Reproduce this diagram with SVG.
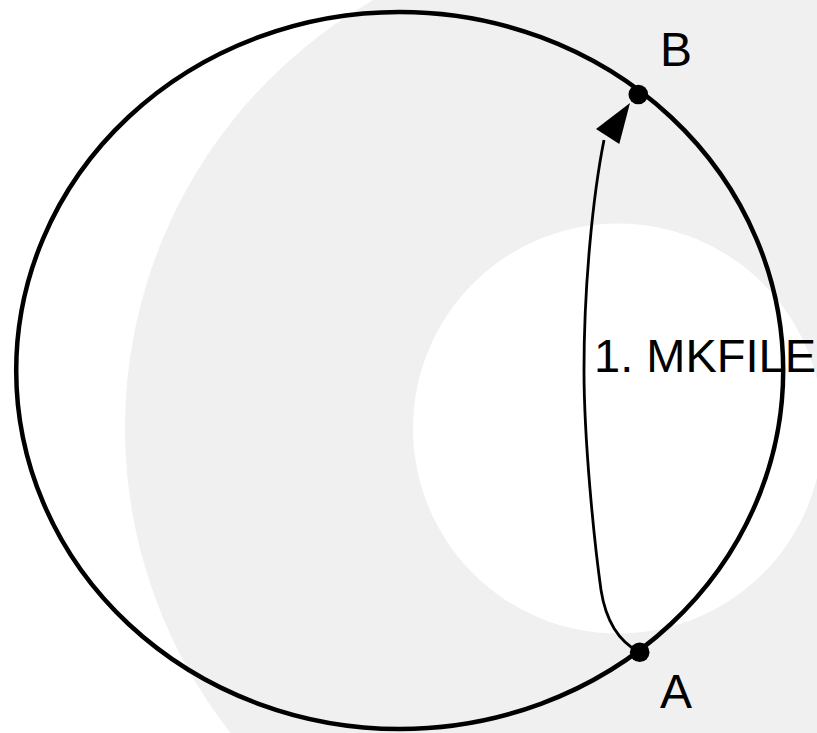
<svg xmlns="http://www.w3.org/2000/svg" width="817" height="733" viewBox="0 0 817 733">
<style>
.bgring{fill:#f0f0f0}
.bghole{fill:#ffffff}
.ring{fill:none;stroke:#000;stroke-width:4.5}
.edge{fill:none;stroke:#000;stroke-width:2.8}
.dot{fill:#000}
.lbl{font-family:"Liberation Sans",Arial,sans-serif;font-size:48px;fill:#000}
.lbl2{font-family:"Liberation Sans",Arial,sans-serif;font-size:47px;fill:#000}
</style>
<rect width="817" height="733" fill="#ffffff"/>
<circle class="bgring" cx="618" cy="428" r="493"/>
<circle class="bghole" cx="618" cy="428.5" r="205"/>
<g id="cycle">
<ellipse class="ring" cx="399.7" cy="370.5" rx="383.5" ry="358.5"/>
</g>
<g id="connectors">
<path class="edge" d="M639,652 C620,642 606,622 601,590 C594,540 584,440 584,370 C584,285 593,195 604,140"/>
<polygon points="630,103 596,129 619.3,144" fill="#000"/>
<text class="lbl2" x="594" y="372">1. MKFILE</text>
</g>
<g id="nodeB">
<circle class="dot" cx="638.3" cy="94.5" r="9.8"/>
<text class="lbl" x="676" y="65.7" text-anchor="middle">B</text>
</g>
<g id="nodeA">
<circle class="dot" cx="639.7" cy="652.3" r="9.8"/>
<text class="lbl" x="676" y="707.7" text-anchor="middle">A</text>
</g>
</svg>
